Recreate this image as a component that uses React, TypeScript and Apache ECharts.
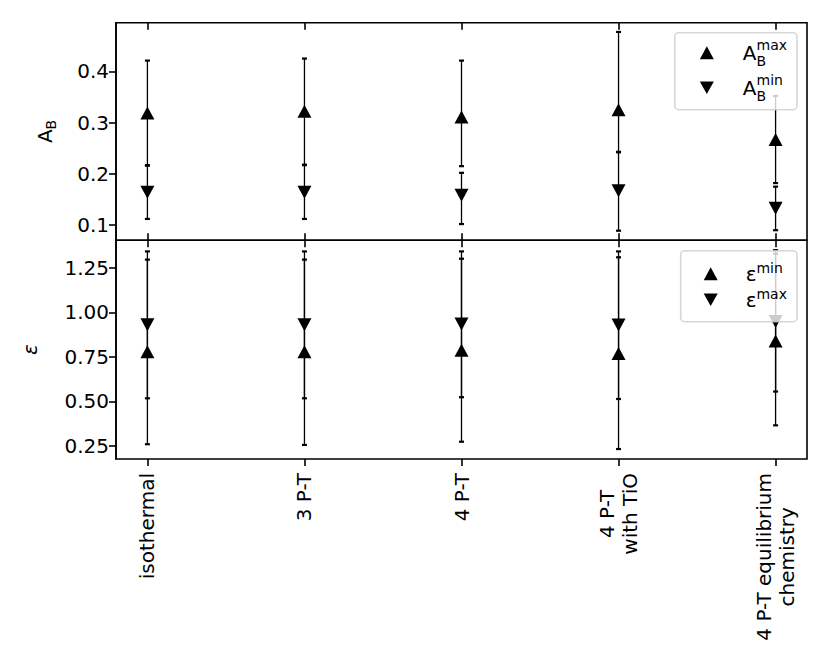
import React, { useEffect, useRef } from "react";
import * as echarts from "echarts";

const FONT = "DejaVu Sans";

const categories = [
  "isothermal",
  "3 P-T",
  "4 P-T",
  "4 P-T\nwith TiO",
  "4 P-T equilibrium\nchemistry",
];

// top panel: A_B
const abMax = [0.319, 0.322, 0.311, 0.325, 0.267];
const abMaxLow = [0.217, 0.218, 0.215, 0.243, 0.182];
const abMaxHigh = [0.421, 0.425, 0.421, 0.477, 0.352];
const abMin = [0.164, 0.164, 0.158, 0.167, 0.133];
const abMinLow = [0.112, 0.112, 0.102, 0.089, 0.09];
const abMinHigh = [0.216, 0.217, 0.202, 0.242, 0.175];

// bottom panel: epsilon
const epsMin = [0.779, 0.779, 0.788, 0.77, 0.84];
const epsMinLow = [0.26, 0.256, 0.274, 0.233, 0.366];
const epsMinHigh = [1.297, 1.297, 1.302, 1.31, 1.33];
const epsMax = [0.931, 0.931, 0.935, 0.929, 0.95];
const epsMaxLow = [0.518, 0.518, 0.524, 0.514, 0.556];
const epsMaxHigh = [1.343, 1.343, 1.343, 1.343, 1.35];

const abTicks = [0.1, 0.2, 0.3, 0.4];
const epsTicks = [0.25, 0.5, 0.75, 1.0, 1.25];
const xTicks = [0, 1, 2, 3, 4];

export default function App() {
  const ref = useRef<HTMLDivElement>(null);
  useEffect(() => {
    const chart = echarts.init(ref.current!, null, { renderer: "svg" });

    const errRender = (params: any, api: any) => {
      const x = api.value(0);
      const p1 = api.coord([x, api.value(1)]);
      const p2 = api.coord([x, api.value(2)]);
      const cw = 2.5;
      const st = { stroke: "#000", lineWidth: 1.3 };
      const cst = { stroke: "#000", lineWidth: 2.2 };
      return {
        type: "group",
        children: [
          { type: "line", shape: { x1: p1[0], y1: p1[1], x2: p2[0], y2: p2[1] }, style: st },
          { type: "line", shape: { x1: p1[0] - cw, y1: p1[1], x2: p1[0] + cw, y2: p1[1] }, style: cst },
          { type: "line", shape: { x1: p2[0] - cw, y1: p2[1], x2: p2[0] + cw, y2: p2[1] }, style: cst },
        ],
      };
    };

    const errData = (lo: number[], hi: number[]) => lo.map((l, i) => [i, l, hi[i]]);
    const ptData = (v: number[]) => v.map((y, i) => [i, y]);

    const downPath = "path://M0,0L10,0L5,9Z";

    const axisLineStyle = { color: "#000", width: 1.6 };

    const xBase = {
      type: "value",
      min: -0.2,
      max: 4.2,
      splitLine: { show: false },
      axisLine: { show: false, onZero: false },
    };

    const yBase = {
      type: "value",
      splitLine: { show: false },
      axisLine: { show: true, onZero: false, lineStyle: axisLineStyle },
      axisTick: { show: true, inside: false, length: 7, lineStyle: axisLineStyle },
      nameLocation: "middle",
      nameRotate: 90,
      nameMoveOverlap: false,
    };

    const markerStyle = { color: "#000", opacity: 1 };

    const option: any = {
      animation: false,
      backgroundColor: "#fff",
      textStyle: { fontFamily: FONT, color: "#000" },
      grid: [
        { left: 116, top: 22.7, width: 691, height: 217.5, show: true, borderColor: "#000", borderWidth: 1.6, containLabel: false, outerBoundsMode: "none" },
        { left: 116, top: 240.2, width: 691, height: 218.8, show: true, borderColor: "#000", borderWidth: 1.6, containLabel: false, outerBoundsMode: "none" },
      ],
      xAxis: [
        {
          ...xBase,
          gridIndex: 0,
          position: "bottom",
          axisTick: { show: true, inside: false, length: 7, customValues: xTicks, lineStyle: axisLineStyle },
          axisLabel: { show: false },
        },
        {
          ...xBase,
          gridIndex: 0,
          position: "top",
          axisTick: { show: true, inside: true, length: 7, customValues: xTicks, lineStyle: axisLineStyle },
          axisLabel: { show: false },
        },
        {
          ...xBase,
          gridIndex: 1,
          position: "bottom",
          axisTick: { show: true, inside: false, length: 7, customValues: xTicks, lineStyle: axisLineStyle },
          axisLabel: {
            show: true,
            customValues: xTicks,
            rotate: 90,
            margin: 14,
            fontFamily: FONT,
            fontSize: 20,
            color: "#000",
            lineHeight: 23,
            hideOverlap: false,
            formatter: (v: number) => {
              const i = Math.round(v);
              return categories[i]
                .split("\n")
                .map((l) => `{c|${l}}`)
                .join("\n");
            },
            rich: { c: { align: "center", fontFamily: FONT, fontSize: 20, lineHeight: 23, color: "#000" } },
          },
        },
        {
          ...xBase,
          gridIndex: 1,
          position: "top",
          axisTick: { show: true, inside: false, length: 7, customValues: xTicks, lineStyle: axisLineStyle },
          axisLabel: { show: false },
        },
      ],
      yAxis: [
        {
          ...yBase,
          gridIndex: 0,
          min: 0.0705,
          max: 0.495,
          axisTick: { ...yBase.axisTick, customValues: abTicks },
          axisLabel: {
            customValues: abTicks,
            margin: 7,
            fontFamily: FONT,
            fontSize: 20,
            color: "#000",
            formatter: (v: number) => v.toFixed(1),
          },
          name: "{a|A}{b|B}",
          nameGap: 58,
          nameTextStyle: {
            fontFamily: FONT,
            color: "#000",
            rich: {
              a: { fontFamily: FONT, fontSize: 20, lineHeight: 26, color: "#000" },
              b: { fontFamily: FONT, fontSize: 14, lineHeight: 14, verticalAlign: "bottom", color: "#000" },
            },
          },
        },
        {
          ...yBase,
          gridIndex: 1,
          min: 0.177,
          max: 1.406,
          axisTick: { ...yBase.axisTick, customValues: epsTicks },
          axisLabel: {
            customValues: epsTicks,
            margin: 7,
            fontFamily: FONT,
            fontSize: 20,
            color: "#000",
            formatter: (v: number) => v.toFixed(2),
          },
          name: "ε",
          nameGap: 76,
          nameTextStyle: { fontFamily: FONT, fontSize: 20, fontStyle: "italic", color: "#000" },
        },
      ],
      legend: [
        {
          orient: "vertical",
          right: 33,
          top: 32.7,
          padding: [5, 10, 7, 25],
          itemGap: 5,
          itemWidth: 14,
          itemHeight: 13,
          backgroundColor: "rgba(255,255,255,0.8)",
          borderColor: "rgba(204,204,204,0.8)",
          borderWidth: 1.6,
          borderRadius: 4,
          itemStyle: { color: "#000", opacity: 1 },
          data: [
            { name: "A_B^max", icon: "triangle" },
            { name: "A_B^min", icon: downPath },
          ],
          formatter: (n: string) =>
            n === "A_B^max" ? "{sp| }{A|A}{B|B}{sup|max}" : "{sp| }{A|A}{B|B}{sup|min}",
          textStyle: {
            fontFamily: FONT,
            color: "#000",
            rich: {
              sp: { width: 24, fontSize: 10 },
              A: { fontFamily: FONT, fontSize: 20, lineHeight: 30, color: "#000" },
              B: { fontFamily: FONT, fontSize: 14, lineHeight: 16, verticalAlign: "bottom", width: 0, color: "#000" },
              sup: { fontFamily: FONT, fontSize: 14, lineHeight: 16, verticalAlign: "top", color: "#000" },
            },
          },
        },
        {
          orient: "vertical",
          right: 33,
          top: 250.7,
          padding: [10, 10, 12, 23],
          itemGap: 3,
          itemWidth: 14,
          itemHeight: 13,
          backgroundColor: "rgba(255,255,255,0.8)",
          borderColor: "rgba(204,204,204,0.8)",
          borderWidth: 1.6,
          borderRadius: 4,
          itemStyle: { color: "#000", opacity: 1 },
          data: [
            { name: "ε^min", icon: "triangle" },
            { name: "ε^max", icon: downPath },
          ],
          formatter: (n: string) =>
            n === "ε^min" ? "{sp| }{e|ε}{sup|min}" : "{sp| }{e|ε}{sup|max}",
          textStyle: {
            fontFamily: FONT,
            color: "#000",
            rich: {
              sp: { width: 23, fontSize: 10 },
              e: { fontFamily: FONT, fontSize: 20, lineHeight: 26, color: "#000" },
              sup: { fontFamily: FONT, fontSize: 14, lineHeight: 12, verticalAlign: "top", color: "#000" },
            },
          },
        },
      ],
      series: [
        { type: "custom", name: "abMaxErr", xAxisIndex: 0, yAxisIndex: 0, renderItem: errRender, data: errData(abMaxLow, abMaxHigh), encode: { x: 0, y: [1, 2] }, z: 2 },
        { type: "custom", name: "abMinErr", xAxisIndex: 0, yAxisIndex: 0, renderItem: errRender, data: errData(abMinLow, abMinHigh), encode: { x: 0, y: [1, 2] }, z: 2 },
        { type: "custom", name: "epsMinErr", xAxisIndex: 2, yAxisIndex: 1, renderItem: errRender, data: errData(epsMinLow, epsMinHigh), encode: { x: 0, y: [1, 2] }, z: 2 },
        { type: "custom", name: "epsMaxErr", xAxisIndex: 2, yAxisIndex: 1, renderItem: errRender, data: errData(epsMaxLow, epsMaxHigh), encode: { x: 0, y: [1, 2] }, z: 2 },
        { type: "scatter", name: "A_B^max", xAxisIndex: 0, yAxisIndex: 0, symbol: "triangle", symbolSize: [14, 13], itemStyle: markerStyle, data: ptData(abMax), z: 3 },
        { type: "scatter", name: "A_B^min", xAxisIndex: 0, yAxisIndex: 0, symbol: "triangle", symbolRotate: 180, symbolSize: [14, 13], itemStyle: markerStyle, data: ptData(abMin), z: 3 },
        { type: "scatter", name: "ε^min", xAxisIndex: 2, yAxisIndex: 1, symbol: "triangle", symbolSize: [14, 13], itemStyle: markerStyle, data: ptData(epsMin), z: 3 },
        { type: "scatter", name: "ε^max", xAxisIndex: 2, yAxisIndex: 1, symbol: "triangle", symbolRotate: 180, symbolSize: [14, 13], itemStyle: markerStyle, data: ptData(epsMax), z: 3 },
      ],
    };

    chart.setOption(option);
    return () => chart.dispose();
  }, []);

  return (
    <div
      ref={ref}
      style={{ position: "fixed", left: 0, top: 0, width: 830, height: 664, background: "#fff" }}
    />
  );
}
